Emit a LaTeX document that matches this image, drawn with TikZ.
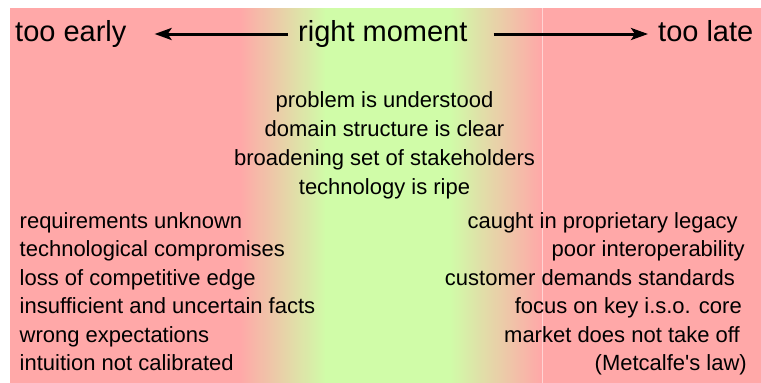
\documentclass[tikz,border=0pt]{standalone}
\usepackage{fontspec}
\setmainfont{Liberation Sans}
\usetikzlibrary{arrows.meta}
\definecolor{pinkc}{RGB}{255,168,168}
\definecolor{greenc}{RGB}{208,252,168}
\begin{document}
\begin{tikzpicture}[x=1pt,y=-1pt,
  big/.style={inner sep=0pt,anchor=base west,font=\fontsize{29}{34}\selectfont},
  small/.style={inner sep=0pt,font=\fontsize{22}{26}\selectfont},
  lft/.style={small,anchor=base west},
  rgt/.style={small,anchor=base east},
  mid/.style={small,anchor=base},
  arr/.style={line width=3pt,-{Stealth[length=17pt,width=12pt,inset=4pt]}}]
\useasboundingbox (0,0) rectangle (761,383);
\fill[white] (0,0) rectangle (761,383);
% background
\fill[pinkc] (10,8) rectangle (241,383);
\shade[left color=pinkc,right color=greenc] (240,8) rectangle (326,383);
\fill[greenc] (325,8) rectangle (451,383);
\shade[left color=greenc,right color=pinkc] (450,8) rectangle (541,383);
\fill[pinkc] (540,8) rectangle (761,383);
\draw[white,opacity=0.5,line width=0.7pt] (542.5,8) -- (542.5,383);
% headings
\node[big] (early) at (15,41.7) {too early};
\node[big] (right) at (298,41.7) {right moment};
\node[big] (late) at (658,41.7) {too late};
\coordinate (ay) at (0,34);
\draw[arr] ([xshift=-10pt]right.west |- ay) -- ([xshift=28pt]early.east |- ay);
\draw[arr] ([xshift=26pt]right.east |- ay) -- ([xshift=-10pt]late.west |- ay);
% centre
\node[mid] (c1) at (384.5,107.7) {problem is understood};
\node[mid] (c2) at (384.5,136.5) {domain structure is clear};
\node[mid] (c3) at (384.5,165.2) {broadening set of stakeholders};
\node[mid] (c4) at (384.5,194) {technology is ripe};
% left
\node[lft] (l1) at (19.5,228.3) {requirements unknown};
\node[lft] (l2) at (19.5,256.8) {technological compromises};
\node[lft] (l3) at (19.5,285.2) {loss of competitive edge};
\node[lft] (l4) at (19.5,313.7) {insufficient and uncertain facts};
\node[lft] (l5) at (19.5,342.1) {wrong expectations};
\node[lft] (l6) at (19.5,370.5) {intuition not calibrated};
% right
\node[rgt] (r1) at (738,228.3) {caught in proprietary legacy};
\node[rgt] (r2) at (745,256.8) {poor interoperability};
\node[rgt] (r3) at (735,285.2) {customer demands standards};
\node[rgt] (r4) at (742,313.7) {focus on key i.s.o. core};
\node[rgt] (r5) at (740,342.1) {market does not take off};
\node[rgt] (r6) at (747,370.5) {(Metcalfe\textquotesingle s law)};
\end{tikzpicture}
\end{document}
